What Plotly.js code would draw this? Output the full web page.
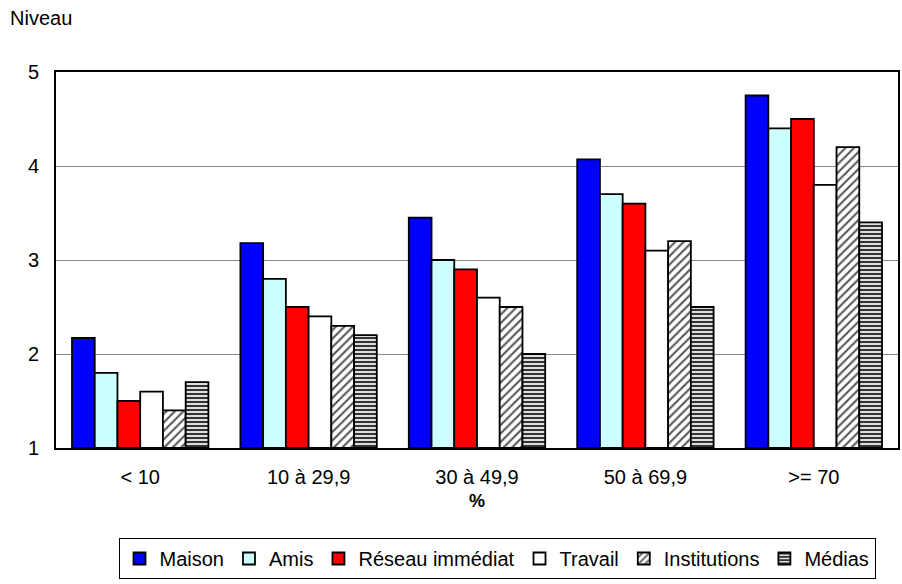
<!DOCTYPE html>
<html><head><meta charset="utf-8">
<script src="https://cdn.plot.ly/plotly-3.0.1.min.js"></script>
<style>body{margin:0;background:#fff}#c{width:902px;height:584px}</style>
</head><body><div id="c"></div>
<script>
const categories = ['< 10', '10 à 29,9', '30 à 49,9', '50 à 69,9', '>= 70'];
const seriesNames = ['Maison', 'Amis', 'Réseau immédiat', 'Travail', 'Institutions', 'Médias'];
const maison = [2.17, 3.18, 3.45, 4.07, 4.75];
const amis = [1.8, 2.8, 3.0, 3.7, 4.4];
const reseau = [1.5, 2.5, 2.9, 3.6, 4.5];
const travail = [1.6, 2.4, 2.6, 3.1, 3.8];
const institutions = [1.4, 2.3, 2.5, 3.2, 4.2];
const medias = [1.7, 2.2, 2.0, 2.5, 3.4];
const yTicks = [1, 2, 3, 4, 5];

const values = [maison, amis, reseau, travail, institutions, medias];
const styles = [
  {color: '#0000FF'},
  {color: '#CCFFFF'},
  {color: '#FF0000'},
  {color: '#FFFFFF'},
  {color: '#FFFFFF', pattern: {shape: '/', fgcolor: '#555555', bgcolor: '#FFFFFF', size: 6, solidity: 0.35}},
  {color: '#CCCCCC', pattern: {shape: '-', fgcolor: '#333333', bgcolor: '#DDDDDD', size: 4, solidity: 0.5}}
];
const traces = values.map((v, i) => ({
  type: 'bar', name: seriesNames[i], x: categories, y: v.map(d => d - 1), base: 1,
  marker: Object.assign({line: {color: '#000', width: 1.8}}, styles[i]),
  hoverinfo: 'x+y'
}));
const PW = 842, PH = 376;
const layout = {
  width: 902, height: 584,
  margin: {l: 56, r: 4, t: 72, b: 136},
  paper_bgcolor: '#fff', plot_bgcolor: '#fff',
  font: {family: 'Liberation Sans, Arial, sans-serif', size: 20, color: '#000'},
  barmode: 'group', bargap: 0.19, bargroupgap: 0,
  xaxis: {
    showline: true, linecolor: '#000', linewidth: 1.8, mirror: true,
    ticks: '', tickfont: {size: 20}, ticklabelstandoff: 10
  },
  yaxis: {
    range: [1, 5], tickvals: yTicks, showgrid: true, gridcolor: '#888', gridwidth: 1,
    showline: true, linecolor: '#000', linewidth: 1.8, mirror: true,
    ticks: '', tickfont: {size: 20}, zeroline: false, ticklabelstandoff: 11
  },
  showlegend: true,
  legend: {
    orientation: 'h', x: (497 - 56) / PW, xanchor: 'center', y: -(579 - 448) / PH, yanchor: 'bottom',
    bordercolor: '#000', borderwidth: 1, font: {size: 20}, traceorder: 'normal',
    itemwidth: 30, tracegroupgap: 0
  },
  annotations: [
    {text: 'Niveau', xref: 'paper', yref: 'paper', x: -56/PW, xanchor: 'left',
     y: 1 + 54/PH, yanchor: 'middle', showarrow: false, font: {size: 20}, xshift: 8},
    {text: '<b>%</b>', xref: 'paper', yref: 'paper', x: 0.5, xanchor: 'center',
     y: -53/PH, yanchor: 'middle', showarrow: false, font: {size: 18}}
  ]
};
Plotly.newPlot('c', traces, layout, {displayModeBar: false, staticPlot: true});
</script></body></html>
